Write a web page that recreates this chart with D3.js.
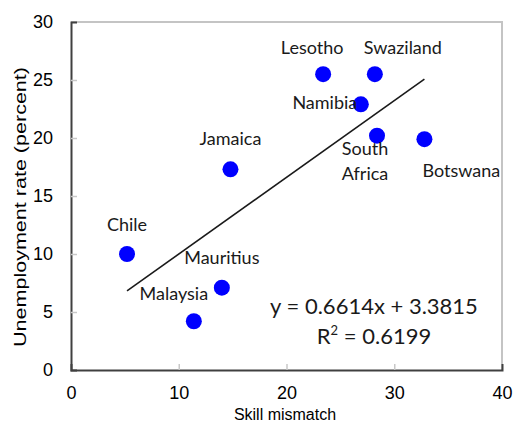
<!DOCTYPE html>
<html>
<head>
<meta charset="utf-8">
<script src="https://cdn.jsdelivr.net/npm/d3@7"></script>
<style>
  html, body { margin: 0; padding: 0; background: #fff; }
  svg { display: block; }
</style>
</head>
<body>
<svg id="chart" width="513" height="425"></svg>
<script>
const countries = ["Chile", "Malaysia", "Mauritius", "Jamaica", "Lesotho", "Swaziland", "Namibia", "South Africa", "Botswana"];
const skillMismatch = [5.2, 11.4, 14.0, 14.8, 23.4, 28.2, 26.9, 28.4, 32.8];
const unemployment = [10.0, 4.2, 7.1, 17.3, 25.5, 25.5, 22.9, 20.2, 19.9];
const xTicks = [0, 10, 20, 30, 40];
const yTicks = [0, 5, 10, 15, 20, 25, 30];
const slope = 0.6614, intercept = 3.3815;
const equationText = "y = 0.6614x + 3.3815";
const r2Value = "0.6199";
// label offsets (dx, dy relative to point, in px) — layout only
const labelPos = {
  "Chile": [0, -23],
  "Malaysia": [-20, -21],
  "Mauritius": [0, -24],
  "Jamaica": [0, -24],
  "Lesotho": [-11, -20],
  "Swaziland": [28, -20],
  "Namibia": [-36, 5],
  "South Africa": [-12, 19],
  "Botswana": [37, 38]
};

const svg = d3.select("#chart");
const m = { left: 71, right: 502, top: 22, bottom: 370 };
const x = d3.scaleLinear().domain([0, 40]).range([m.left, m.right]);
const y = d3.scaleLinear().domain([0, 30]).range([m.bottom, m.top]);

// top & right border (light)
svg.append("line").attr("x1", m.left).attr("x2", m.right).attr("y1", m.top).attr("y2", m.top)
  .attr("stroke", "#c4c4c4").attr("stroke-width", 2);
svg.append("line").attr("x1", m.right).attr("x2", m.right).attr("y1", m.top - 1).attr("y2", m.bottom)
  .attr("stroke", "#c4c4c4").attr("stroke-width", 2);

// axes
const xAxis = d3.axisBottom(x).tickValues(xTicks).tickSize(-6).tickPadding(16).tickFormat(d3.format("d"));
const yAxis = d3.axisLeft(y).tickValues(yTicks).tickSize(-6).tickPadding(18).tickFormat(d3.format("d"));

const gx = svg.append("g").attr("transform", `translate(0,${m.bottom})`).call(xAxis);
const gy = svg.append("g").attr("transform", `translate(${m.left},0)`).call(yAxis);
[gx, gy].forEach(g => {
  g.select(".domain").attr("stroke", "#404040").attr("stroke-width", 2);
  g.selectAll(".tick line").attr("stroke", "#c8c8c8").attr("stroke-width", 1.5);
  g.selectAll(".tick text").attr("fill", "#000").style("font-family", "'Liberation Sans', Arial, sans-serif").style("font-size", "18px");
});
gx.selectAll(".tick").filter(d => d === 0 || d === 40).select("line").remove();
gy.selectAll(".tick").filter(d => d === 0 || d === 30).select("line").remove();
gx.selectAll(".tick text").attr("dy", "0.71em");

// axis titles
svg.append("text").attr("x", 285).attr("y", 420).attr("text-anchor", "middle")
  .style("font-family", "'Liberation Sans', Arial, sans-serif").style("font-size", "16px").text("Skill mismatch");
svg.append("text").attr("transform", "translate(26,207) rotate(-90)").attr("text-anchor", "middle")
  .style("font-family", "'Liberation Sans', Arial, sans-serif").style("font-size", "17px")
  .attr("textLength", 280).attr("lengthAdjust", "spacingAndGlyphs")
  .text("Unemployment rate (percent)");

// trend line
const xmin = d3.min(skillMismatch), xmax = d3.max(skillMismatch);
svg.append("line")
  .attr("x1", x(xmin)).attr("y1", y(slope * xmin + intercept))
  .attr("x2", x(xmax)).attr("y2", y(slope * xmax + intercept))
  .attr("stroke", "#1a1a1a").attr("stroke-width", 1.6);

const data = countries.map((c, i) => ({ c, x: skillMismatch[i], y: unemployment[i] }));

// points
svg.append("g").selectAll("circle").data(data).join("circle")
  .attr("cx", d => x(d.x)).attr("cy", d => y(d.y)).attr("r", 8).attr("fill", "#0000ff");

// labels
const lab = svg.append("g").style("font-family", "Lato, 'Open Sans', sans-serif").style("font-size", "18px").attr("fill", "#1a1a1a");
data.forEach(d => {
  const [dx, dy] = labelPos[d.c];
  const t = lab.append("text").attr("x", x(d.x) + dx).attr("y", y(d.y) + dy).attr("text-anchor", "middle");
  if (d.c === "South Africa") {
    t.append("tspan").attr("x", x(d.x) + dx).text("South");
    t.append("tspan").attr("x", x(d.x) + dx).attr("dy", 25).text("Africa");
  } else {
    t.text(d.c);
  }
});

// equation
const eq = svg.append("g").style("font-family", "Lato, 'Open Sans', sans-serif").style("font-size", "22px").attr("fill", "#1a1a1a");
eq.append("text").attr("x", 374).attr("y", 314).attr("text-anchor", "middle").text(equationText);
const r2 = eq.append("text").attr("x", 374).attr("y", 344).attr("text-anchor", "middle");
r2.append("tspan").text("R");
r2.append("tspan").attr("dy", -9).style("font-size", "13px").text("2");
r2.append("tspan").attr("dy", 9).text(" = " + r2Value);
</script>
</body>
</html>
